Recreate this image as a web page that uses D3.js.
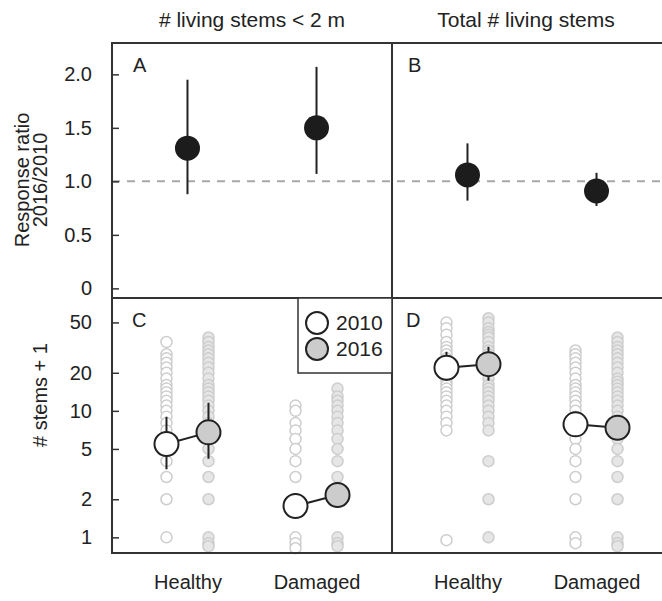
<!DOCTYPE html>
<html>
<head>
<meta charset="utf-8">
<script src="https://cdn.jsdelivr.net/npm/d3@7"></script>
<style>
  body { margin: 0; background: #fff; }
  svg text { font-family: "Liberation Sans", Arial, sans-serif; fill: #222; }
</style>
</head>
<body>
<div id="chart"></div>
<script>
// categories and labels
var groups = ["Healthy", "Damaged"];
var years = ["2010", "2016"];
var columnTitles = ["# living stems < 2 m", "Total # living stems"];
var ratioTicks = [0, 0.5, 1, 1.5, 2];
var stemTicks = [1, 2, 5, 10, 20, 50];

// response ratio 2016/2010 (mean, lower, upper), per group
var ratioA = [[1.31, 0.88, 1.95], [1.50, 1.07, 2.07]];
var ratioB = [[1.06, 0.82, 1.355], [0.91, 0.77, 1.08]];

// # stems + 1, raw plots (2010, 2016) per group
var rawC_healthy10 = [35, 28, 26, 24, 22, 20, 18, 16, 15, 14, 13, 12, 11, 10, 9, 8, 7, 6, 5, 4, 3, 2, 1];
var rawC_healthy16 = [38, 35, 32, 30, 28, 26, 24, 22, 20, 18, 16, 15, 14, 13, 12, 11, 10, 9, 8, 7, 6, 5, 4, 3, 2, 1, 0.9, 0.85];
var rawC_damaged10 = [11, 10, 8, 7, 6, 5, 4, 3, 2, 1, 0.9, 0.82];
var rawC_damaged16 = [15, 13, 12, 11, 10, 9, 8, 7, 6, 5, 4, 3, 2, 1, 0.9, 0.85];
var rawD_healthy10 = [50, 45, 40, 35, 32, 30, 28, 26, 24, 22, 20, 18, 17, 16, 15, 14, 13, 12, 11, 10, 9, 8, 7, 0.95];
var rawD_healthy16 = [54, 50, 45, 42, 40, 38, 35, 32, 30, 28, 26, 24, 22, 20, 18, 16, 15, 14, 13, 12, 11, 10, 9, 8, 7, 4, 2, 1];
var rawD_damaged10 = [30, 28, 26, 24, 22, 20, 18, 16, 15, 14, 13, 12, 11, 10, 9, 8, 7, 6, 5, 4, 3, 2, 1, 0.9];
var rawD_damaged16 = [38, 35, 32, 30, 28, 26, 24, 22, 20, 18, 17, 16, 15, 14, 13, 12, 11, 10, 9, 8, 7, 6, 5, 4, 3, 2, 1, 0.9, 0.85];

// # stems + 1, means with CI [mean, lower, upper] (null = no bar drawn)
var meanC_10 = [[5.47, 3.45, 8.98], [1.77, null, null]];
var meanC_16 = [[6.76, 4.18, 11.6], [2.16, null, null]];
var meanD_10 = [[21.9, 17.3, 29.3], [7.82, null, null]];
var meanD_16 = [[23.4, 17.3, 32.1], [7.35, null, null]];

var width = 662, height = 601;
var plotLeft = 112, panelW = 280, plotTop = 43, midY = 298, plotBottom = 553;

var svg = d3.select("#chart").append("svg")
    .attr("width", width)
    .attr("height", height);

var x = d3.scalePoint()
    .domain(groups)
    .range([0, panelW])
    .padding(0.585);

var yearOff = d3.scalePoint()
    .domain(years)
    .range([-21, 21]);

var yRatio = d3.scaleLinear()
    .domain([-0.09, 2.293])
    .range([midY, plotTop]);

var yStems = d3.scaleLog()
    .domain([0.752, 78])
    .range([plotBottom, midY]);

var ink = "#222";

// dashed reference line at ratio 1
svg.append("line")
    .attr("x1", plotLeft).attr("x2", width)
    .attr("y1", yRatio(1)).attr("y2", yRatio(1))
    .attr("stroke", "#a8a8a8")
    .attr("stroke-width", 2)
    .attr("stroke-dasharray", "8,7");

// y axes (inward ticks)
var axA = svg.append("g")
    .attr("transform", "translate(" + plotLeft + ",0)")
    .call(d3.axisLeft(yRatio).tickValues(ratioTicks).tickSize(-7).tickPadding(20)
        .tickFormat(function(d) { return d === 0 ? "0" : d.toFixed(1); }));
var axC = svg.append("g")
    .attr("transform", "translate(" + plotLeft + ",0)")
    .call(d3.axisLeft(yStems).tickValues(stemTicks).tickSize(-7).tickPadding(20)
        .tickFormat(d3.format("d")));
[axA, axC].forEach(function(ax) {
    ax.select(".domain").remove();
    ax.selectAll("line").attr("stroke", "#333").attr("stroke-width", 1.5);
    ax.selectAll("text").style("font-size", "20px").attr("fill", ink);
});

// x category labels
[0, 1].forEach(function(i) {
    var ax = svg.append("g")
        .attr("transform", "translate(" + (plotLeft + i * panelW) + "," + plotBottom + ")")
        .call(d3.axisBottom(x).tickSize(0).tickPadding(22));
    ax.select(".domain").remove();
    ax.selectAll("text").style("font-size", "20px").attr("fill", ink);
});

// ratio panels A and B
[ratioA, ratioB].forEach(function(data, i) {
    var g = svg.append("g").attr("transform", "translate(" + (plotLeft + i * panelW) + ",0)");
    g.selectAll("line.err").data(data).enter().append("line")
        .attr("x1", function(d, j) { return x(groups[j]); })
        .attr("x2", function(d, j) { return x(groups[j]); })
        .attr("y1", function(d) { return yRatio(d[1]); })
        .attr("y2", function(d) { return yRatio(d[2]); })
        .attr("stroke", ink).attr("stroke-width", 2);
    g.selectAll("circle").data(data).enter().append("circle")
        .attr("cx", function(d, j) { return x(groups[j]); })
        .attr("cy", function(d) { return yRatio(d[0]); })
        .attr("r", 12.5)
        .attr("fill", "#1c1c1c");
});

// stems panels C and D
var rawSets = [
    [[rawC_healthy10, rawC_healthy16], [rawC_damaged10, rawC_damaged16]],
    [[rawD_healthy10, rawD_healthy16], [rawD_damaged10, rawD_damaged16]]
];
var meanSets = [[meanC_10, meanC_16], [meanD_10, meanD_16]];
var rawFill = ["#ffffff", "#e6e6e6"];
var meanFill = ["#ffffff", "#cccccc"];

[0, 1].forEach(function(p) {
    var g = svg.append("g").attr("transform", "translate(" + (plotLeft + p * panelW) + ",0)");
    groups.forEach(function(grp, gi) {
        years.forEach(function(yr, yi) {
            g.append("g").selectAll("circle")
                .data(rawSets[p][gi][yi]).enter().append("circle")
                .attr("cx", x(grp) + yearOff(yr))
                .attr("cy", function(d) { return yStems(d); })
                .attr("r", 5.5)
                .attr("fill", rawFill[yi])
                .attr("stroke", "#cdcdcd")
                .attr("stroke-width", 1.5);
        });
    });
    groups.forEach(function(grp, gi) {
        var m10 = meanSets[p][0][gi], m16 = meanSets[p][1][gi];
        g.append("line")
            .attr("x1", x(grp) + yearOff("2010")).attr("x2", x(grp) + yearOff("2016"))
            .attr("y1", yStems(m10[0])).attr("y2", yStems(m16[0]))
            .attr("stroke", ink).attr("stroke-width", 2);
        [m10, m16].forEach(function(m, yi) {
            var cx = x(grp) + yearOff(years[yi]);
            if (m[1] !== null) {
                g.append("line")
                    .attr("x1", cx).attr("x2", cx)
                    .attr("y1", yStems(m[1])).attr("y2", yStems(m[2]))
                    .attr("stroke", ink).attr("stroke-width", 2);
            }
            g.append("circle")
                .attr("cx", cx).attr("cy", yStems(m[0]))
                .attr("r", 12)
                .attr("fill", meanFill[yi])
                .attr("stroke", ink).attr("stroke-width", 2);
        });
    });
});

// panel borders
svg.append("rect")
    .attr("x", plotLeft).attr("y", plotTop)
    .attr("width", panelW * 2).attr("height", plotBottom - plotTop)
    .attr("fill", "none").attr("stroke", "#333").attr("stroke-width", 2);
svg.append("line")
    .attr("x1", plotLeft + panelW).attr("x2", plotLeft + panelW)
    .attr("y1", plotTop).attr("y2", plotBottom)
    .attr("stroke", "#333").attr("stroke-width", 2);
svg.append("line")
    .attr("x1", plotLeft).attr("x2", plotLeft + panelW * 2)
    .attr("y1", midY).attr("y2", midY)
    .attr("stroke", "#333").attr("stroke-width", 2);

// legend
var leg = svg.append("g");
leg.append("rect")
    .attr("x", 298).attr("y", midY)
    .attr("width", plotLeft + panelW - 298).attr("height", 75)
    .attr("fill", "#fff").attr("stroke", "#333").attr("stroke-width", 1.5);
years.forEach(function(yr, i) {
    leg.append("circle")
        .attr("cx", 317).attr("cy", 323 + i * 26)
        .attr("r", 11)
        .attr("fill", meanFill[i]).attr("stroke", ink).attr("stroke-width", 2);
    leg.append("text")
        .attr("x", 336).attr("y", 330 + i * 26)
        .style("font-size", "21px")
        .text(yr);
});

// panel letters
[["A", 133, 72], ["B", 408, 72], ["C", 132, 327], ["D", 406, 327]].forEach(function(l) {
    svg.append("text").attr("x", l[1]).attr("y", l[2])
        .style("font-size", "20px").text(l[0]);
});

// column titles
columnTitles.forEach(function(t, i) {
    svg.append("text")
        .attr("x", plotLeft + panelW * i + panelW / 2 - (i ? 6 : 0))
        .attr("y", 27)
        .attr("text-anchor", "middle")
        .style("font-size", "21px")
        .text(t);
});

// y axis titles
svg.append("text")
    .attr("transform", "translate(29,180) rotate(-90)")
    .attr("text-anchor", "middle")
    .style("font-size", "20px")
    .text("Response ratio");
svg.append("text")
    .attr("transform", "translate(47,180) rotate(-90)")
    .attr("text-anchor", "middle")
    .style("font-size", "20px")
    .text("2016/2010");
svg.append("text")
    .attr("transform", "translate(47,395) rotate(-90)")
    .attr("text-anchor", "middle")
    .style("font-size", "20px")
    .text("# stems + 1");
</script>
</body>
</html>
